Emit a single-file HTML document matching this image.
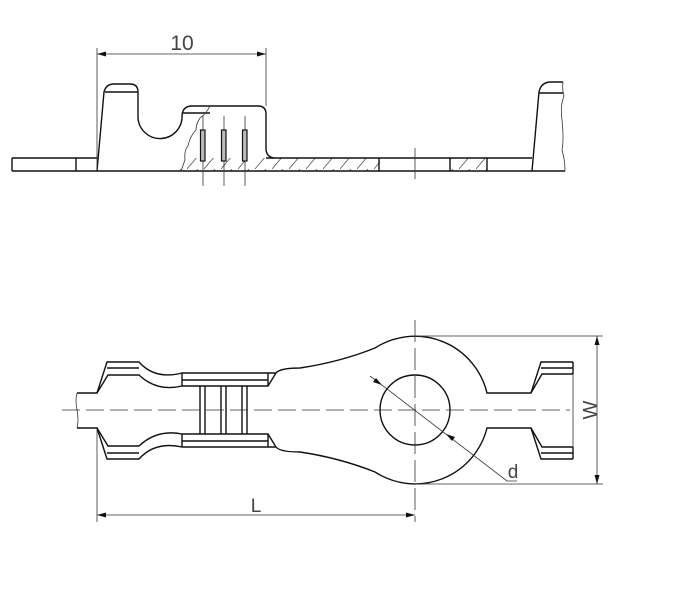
<!DOCTYPE html>
<html><head><style>html,body{margin:0;padding:0;background:#fff}svg{display:block}</style></head>
<body>
<svg width="682" height="600" viewBox="0 0 682 600" xmlns="http://www.w3.org/2000/svg" font-family="Liberation Sans, sans-serif">
<defs>
<pattern id="h" width="17" height="13" patternUnits="userSpaceOnUse"><path d="M0,13 L11,0" stroke="#555" stroke-width="0.8"/></pattern>
</defs>
<g fill="none" stroke="#111" stroke-width="1.4">
<!-- TOP VIEW -->
<rect x="180" y="158" width="200" height="13" fill="url(#h)" stroke="none"/>
<rect x="450" y="158" width="37" height="13" fill="url(#h)" stroke="none"/>
<line x1="12" y1="158" x2="97" y2="158"/>
<line x1="266" y1="158" x2="532" y2="158"/>
<line x1="12" y1="171" x2="565" y2="171"/>
<line x1="12" y1="158" x2="12" y2="171"/>
<line x1="76" y1="158" x2="76" y2="171"/>
<line x1="379" y1="158" x2="379" y2="171"/>
<line x1="450" y1="158" x2="450" y2="171"/>
<line x1="487" y1="158" x2="487" y2="171"/>
<path d="M97,171 L104,92 Q106,84 114,84 L130,84 Q138,84 138,92 L138,118 A22,22 0 0 0 182,115 Q183,106 192,106 L258,106 Q266,106 266,114 L266,150 Q267,157 274,158"/>
<line x1="105" y1="92" x2="138" y2="92"/>
<line x1="183" y1="113" x2="210" y2="113"/>
<path d="M532,171 L539,92 Q541,82 551,82 L563,82"/>
<line x1="539" y1="93" x2="563" y2="93"/>
</g>
<g fill="none" stroke="#333" stroke-width="0.8">
<path d="M210,106 Q206,114 200,118 Q196,124 196,130 Q190,136 188,146 Q184,150 185,160 L181,171"/>
<path d="M563,82 Q562,90 564,96 Q560,106 562,120 Q564,140 562,150 Q565,160 565,171"/>
<line x1="203" y1="116" x2="203" y2="186"/>
<line x1="224" y1="116" x2="224" y2="186"/>
<line x1="245" y1="116" x2="245" y2="186"/>
<line x1="415" y1="148" x2="415" y2="179"/>
<line x1="97" y1="48" x2="97" y2="170"/>
<line x1="266" y1="48" x2="266" y2="106"/>
<line x1="97" y1="54" x2="266" y2="54"/>
</g>
<g fill="#bbb" stroke="#111" stroke-width="1.2">
<rect x="200.5" y="130" width="4.5" height="31"/>
<rect x="221.5" y="130" width="4.5" height="31"/>
<rect x="242.5" y="130" width="4.5" height="31"/>
</g>
<path d="M97,54 l9,-2.5 v5z M266,54 l-9,-2.5 v5z" fill="#111"/>
<text x="182" y="50" font-size="21" text-anchor="middle" fill="#444">10</text>

<!-- BOTTOM VIEW -->
<g fill="none" stroke="#111" stroke-width="1.4">
<path d="M77,393 L97,393 L107,362 L139,362 Q155,380 182,373 L268,373 L276,373 Q280,368 300,368 Q340,362 375,348 A74,74 0 0 1 487,393 L531,393 L541,362 L573,362"/>
<path d="M77,428 L97,428 L107,459 L139,459 Q155,441 182,447 L268,447 L276,447 Q280,452 300,452 Q340,458 375,472 A74,74 0 0 0 487,428 L531,428 L541,459 L573,459"/>
<path d="M97,393 L108,375 L139,375 Q157,392 182,386 L268,386 L276,373"/>
<path d="M97,428 L108,446 L139,446 Q157,429 182,434 L268,434 L276,447"/>
<line x1="107" y1="368" x2="139" y2="368"/>
<line x1="107" y1="453" x2="139" y2="453"/>
<line x1="182" y1="373" x2="182" y2="386"/>
<line x1="182" y1="434" x2="182" y2="447"/>
<line x1="182" y1="380" x2="268" y2="380"/>
<line x1="182" y1="441" x2="268" y2="441"/>
<line x1="268" y1="373" x2="268" y2="386"/>
<line x1="268" y1="434" x2="268" y2="447"/>
<path d="M531,393 L542,374 L573,374 M541,368 L573,368 M573,362 L573,374"/>
<path d="M531,428 L542,447 L573,447 M541,453 L573,453 M573,447 L573,459"/>
<circle cx="415" cy="410" r="35"/>
<line x1="200" y1="386" x2="200" y2="434"/><line x1="205" y1="386" x2="205" y2="434"/>
<line x1="221" y1="386" x2="221" y2="434"/><line x1="226" y1="386" x2="226" y2="434"/>
<line x1="242" y1="386" x2="242" y2="434"/><line x1="247" y1="386" x2="247" y2="434"/>
</g>
<g fill="none" stroke="#333" stroke-width="0.8">
<path d="M77,393 Q75,400 77,410 Q79,420 77,428"/>
<line x1="573" y1="374" x2="573" y2="447"/>
<line x1="62" y1="410" x2="570" y2="410" stroke-dasharray="18,6"/>
<line x1="415" y1="320" x2="415" y2="522" stroke-dasharray="22,6"/>
<line x1="97" y1="430" x2="97" y2="522"/>
<line x1="97" y1="515" x2="415" y2="515"/>
<line x1="415" y1="336" x2="603" y2="336"/>
<line x1="415" y1="484" x2="603" y2="484"/>
<line x1="597" y1="336" x2="597" y2="484"/>
<path d="M370,376 L507,481 L517,481"/>
</g>
<path d="M97,515 l9,-2.5 v5z M415,515 l-9,-2.5 v5z M597,336 l-2.5,9 h5z M597,484 l-2.5,-9 h5z" fill="#111"/>
<path d="M382,385 l-9,-3 l3,-4z M446,434 l9,3 l-3,4z" fill="#111"/>
<text x="256" y="512" font-size="19" text-anchor="middle" fill="#444">L</text>
<text x="513" y="478" font-size="19" text-anchor="middle" fill="#444">d</text>
<text x="0" y="0" font-size="20" text-anchor="middle" fill="#444" transform="translate(597,410) rotate(-90)">W</text>
</svg>
</body></html>
